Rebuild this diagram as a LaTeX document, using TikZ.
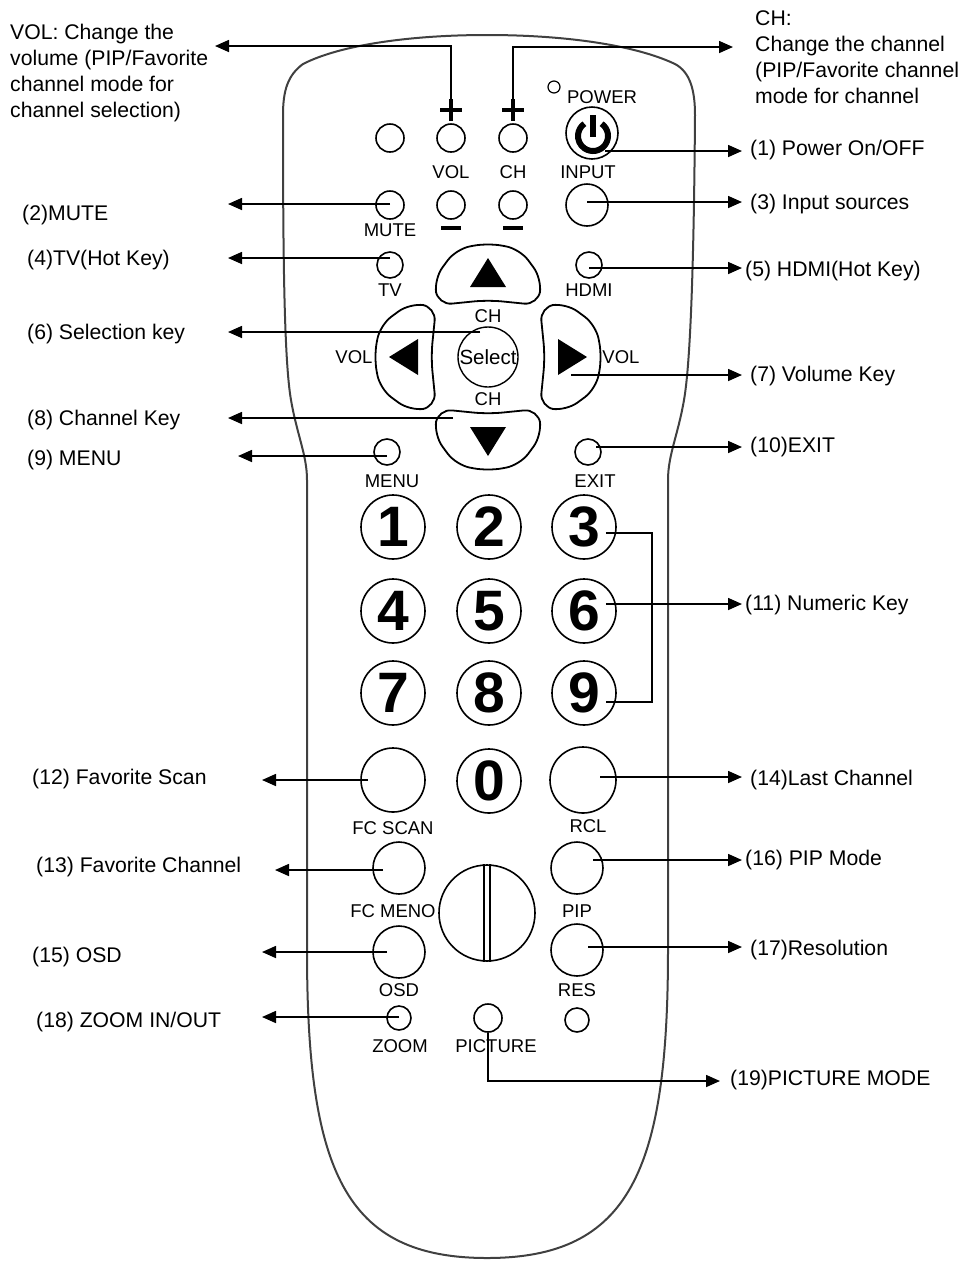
\documentclass[tikz,border=0pt]{standalone}
\usepackage{fontspec}
\setmainfont{Liberation Sans}
\newfontfamily\keyfont{Liberation Sans Bold}
\usetikzlibrary{arrows.meta}

\tikzset{
  body/.style={draw=black!75, line width=2pt},
  btn/.style={draw, circle, line width=1.6pt, inner sep=0pt, minimum size=#1},
  btn/.default=28pt,
  numkey/.style={btn=64pt, font=\keyfont\fontsize{57}{57}\selectfont},
  klbl/.style={font=\fontsize{18.5}{20}\selectfont, inner sep=0pt, text height=13.2pt, text depth=0pt},
  lbl/.style={font=\fontsize{21.2}{26}\selectfont, inner sep=0pt, anchor=west, text height=15.2pt, text depth=0pt},
  note/.style={font=\fontsize{21.2}{26}\selectfont, inner sep=0pt, anchor=north west, align=left},
  conn/.style={line width=1.6pt, -{Triangle[length=14pt,width=12pt]}},
  wire/.style={line width=1.6pt},
  arrowkey/.style={draw, line width=1.8pt, rounded corners=14pt},
  bar/.style={line width=4.5pt},
}

\begin{document}
\begin{tikzpicture}[x=1pt, y=-1pt]
\useasboundingbox (0,0) rectangle (968,1262);

% remote body
\draw[body] (487,35) .. controls (565,35) and (635,45) .. (675,64)
  .. controls (690,72) and (695,90) .. (695,115)
  .. controls (694,250) and (691,360) .. (684,400)
  .. controls (678,435) and (668,455) .. (668,480)
  -- (668,950)
  .. controls (668,1170) and (630,1258) .. (487,1258)
  .. controls (344,1258) and (307,1170) .. (307,950)
  -- (307,480)
  .. controls (307,455) and (297,435) .. (291,400)
  .. controls (284,360) and (283,250) .. (283,115)
  .. controls (283,90) and (288,75) .. (303,64)
  .. controls (340,45) and (410,35) .. (487,35) -- cycle;

% top rows
\node[btn=12pt, line width=1.2pt] (led) at (554,87) {};
\node[klbl] at (602,97) {POWER};
\node[btn] (blank) at (390,138) {};
\node[btn] (volup) at (451,138) {};
\node[btn] (chup) at (513,138) {};
\node[btn=52pt] (power) at (592,133) {};
\draw[line width=6pt] (593,136) ++(-55:15) arc[start angle=-55, end angle=235, radius=15];
\draw[line width=6.5pt] (593,115) -- (593,137);
\draw[bar] (440,110) -- (462,110) (451,99) -- (451,121);
\draw[bar] (502,110) -- (524,110) (513,99) -- (513,121);
\coordinate (volplus) at (451,99);
\coordinate (chplus) at (513,99);
\node[klbl] at (451,172) {VOL};
\node[klbl] at (513,172) {CH};
\node[klbl] at (588,172) {INPUT};
\node[btn] (mute) at (390,205) {};
\node[btn] (voldn) at (451,205) {};
\node[btn] (chdn) at (513,205) {};
\node[btn=42pt] (input) at (587,205) {};
\draw[line width=4pt] (441,228) -- (461,228) (503,228) -- (523,228);
\node[klbl] at (390,230) {MUTE};

% navigation
\node[btn=26pt] (tv) at (390,265) {};
\node[klbl] at (390,290) {TV};
\node[btn=26pt] (hdmi) at (589,265) {};
\node[klbl] at (589,290) {HDMI};
\foreach \a in {0,90,180,270}{
  \begin{scope}[shift={(488,357)}, rotate=\a]
    \draw[arrowkey] (-50,-52) -- (-54,-78) -- (-32,-108) -- (0,-114) -- (32,-108) -- (54,-78) -- (50,-52) -- (0,-57) -- cycle;
    \fill (0,-99) -- (-18,-70) -- (18,-70) -- cycle;
  \end{scope}
}
\coordinate (rightkey) at (571,357);
\coordinate (downkey) at (488,437);
\node[btn=60pt, line width=1.4pt, font=\fontsize{20.5}{21}\selectfont] (sel) at (488,357) {Select};
\node[klbl] at (488,316) {CH};
\node[klbl] at (488,399) {CH};
\node[klbl] at (354,357) {VOL};
\node[klbl] at (621,357) {VOL};
\node[btn=26pt] (menu) at (387,452) {};
\node[klbl] at (392,481) {MENU};
\node[btn=26pt] (exit) at (588,452) {};
\node[klbl] at (595,481) {EXIT};

% number keys
\foreach \d/\x/\y in {1/393/527, 2/489/527, 3/584/527, 4/393/611, 5/489/611,
                      6/584/611, 7/393/693, 8/489/693, 9/584/693, 0/489/781}
  \node[numkey] (k\d) at (\x,\y) {\d};

% lower keys
\node[btn=64pt] (fcscan) at (393,780) {};
\node[klbl] at (393,828) {FC SCAN};
\node[btn=66pt] (rcl) at (583,780) {};
\node[klbl] at (588,826) {RCL};
\node[btn=52pt] (fcmeno) at (399,868) {};
\node[klbl] at (393,911) {FC MENO};
\node[btn=52pt] (pip) at (577,868) {};
\node[klbl] at (577,911) {PIP};
\node[btn=96pt] (dial) at (487,913) {};
\draw[line width=1.4pt] ([xshift=-3pt]dial.north) -- ([xshift=-3pt]dial.south)
  ([xshift=3pt]dial.north) -- ([xshift=3pt]dial.south);
\node[btn=52pt] (osd) at (399,952) {};
\node[klbl] at (399,990) {OSD};
\node[btn=52pt] (res) at (577,950) {};
\node[klbl] at (577,990) {RES};
\node[btn=24pt] (zoom) at (399,1018) {};
\node[klbl] at (400,1046) {ZOOM};
\node[btn=28pt] (pict) at (488,1018) {};
\node[klbl] at (496,1046) {PICTURE};
\node[btn=24pt] (spare) at (577,1020) {};

% callout texts
\node[note] (lvol) at (10,24) {VOL: Change the\\volume (PIP/Favorite\\channel mode for\\channel selection)};
\node[note] (lch) at (755,10) {CH:\\Change the channel\\(PIP/Favorite channel\\mode for channel};
\node[lbl] (lpow) at (750,148) {(1) Power On/OFF};
\node[lbl] (lmute) at (22,213) {(2)MUTE};
\node[lbl] (linput) at (750,202) {(3) Input sources};
\node[lbl] (ltv) at (27,258) {(4)TV(Hot Key)};
\node[lbl] (lhdmi) at (745,269) {(5) HDMI(Hot Key)};
\node[lbl] (lsel) at (27,332) {(6) Selection key};
\node[lbl] (lvolk) at (750,374) {(7) Volume Key};
\node[lbl] (lchk) at (27,418) {(8) Channel Key};
\node[lbl] (lmenu) at (27,458) {(9) MENU};
\node[lbl] (lexit) at (750,445) {(10)EXIT};
\node[lbl] (lnum) at (745,603) {(11) Numeric Key};
\node[lbl] (lfcs) at (32,777) {(12) Favorite Scan};
\node[lbl] (lfcm) at (36,865) {(13) Favorite Channel};
\node[lbl] (lrcl) at (750,778) {(14)Last Channel};
\node[lbl] (losd) at (32,955) {(15) OSD};
\node[lbl] (lpip) at (745,858) {(16) PIP Mode};
\node[lbl] (lres) at (750,948) {(17)Resolution};
\node[lbl] (lzoom) at (36,1020) {(18) ZOOM IN/OUT};
\node[lbl] (lpic) at (730,1078) {(19)PICTURE MODE};

% arrow tips
\coordinate (tvol) at (215,46);
\coordinate (tch) at (733,47);
\coordinate (tpow) at (742,151);
\coordinate (tmute) at (228,204);
\coordinate (tinput) at (742,202);
\coordinate (ttv) at (228,258);
\coordinate (thdmi) at (742,268);
\coordinate (tsel) at (228,332);
\coordinate (tvolk) at (742,375);
\coordinate (tchk) at (228,418);
\coordinate (tmenu) at (238,456);
\coordinate (texit) at (742,447);
\coordinate (tnum) at (742,604);
\coordinate (bt) at (652,533);
\coordinate (bb) at (652,702);
\coordinate (tfcs) at (262,780);
\coordinate (trcl) at (742,777);
\coordinate (tfcm) at (275,870);
\coordinate (tpip) at (742,860);
\coordinate (tosd) at (262,952);
\coordinate (tres) at (742,947);
\coordinate (tzoom) at (262,1017);
\coordinate (tpic) at (720,1081);

% connectors
\draw[conn] (volplus) |- (tvol);
\draw[conn] (chplus) |- (tch);
\draw[conn] (power.-60 |- tpow) -- (tpow);
\draw[conn] (tmute -| mute) -- (tmute);
\draw[conn] (tinput -| input) -- (tinput);
\draw[conn] (ttv -| tv) -- (ttv);
\draw[conn] (thdmi -| hdmi) -- (thdmi);
\draw[conn] (tsel -| sel) ++(-8,0) -- (tsel);
\draw[conn] (tvolk -| rightkey) -- (tvolk);
\draw[conn] (tchk -| downkey) ++(-35,0) -- (tchk);
\draw[conn] (tmenu -| menu) -- (tmenu);
\draw[conn] (texit -| exit) ++(8,0) -- (texit);
\draw[wire] (bt -| k3.east) ++(-11,0) -- (bt) -- (bb) -- (bb -| k9.east) -- ++(-11,0);
\draw[conn] (tnum -| k6.east) ++(-11,0) -- (tnum);
\draw[conn] (tfcs -| fcscan) ++(-25,0) -- (tfcs);
\draw[conn] (trcl -| rcl) ++(17,0) -- (trcl);
\draw[conn] (tfcm -| fcmeno) ++(-16,0) -- (tfcm);
\draw[conn] (tpip -| pip) ++(16,0) -- (tpip);
\draw[conn] (tosd -| osd) ++(-12,0) -- (tosd);
\draw[conn] (tres -| res) ++(11,0) -- (tres);
\draw[conn] (tzoom -| zoom) -- (tzoom);
\draw[conn] (pict) |- (tpic);
\end{tikzpicture}
\end{document}
